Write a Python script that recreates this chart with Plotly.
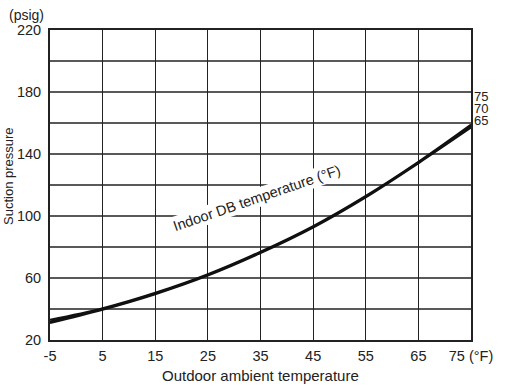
import plotly.graph_objects as go

outdoor_temp = [-5, 5, 15, 25, 35, 45, 55, 65, 75]
suction_75 = [33, 40.5, 50.5, 62.5, 77, 93.5, 113, 135, 159]
suction_70 = [32, 40, 50, 62, 76.5, 93, 112.5, 134.5, 158]
suction_65 = [31, 39.5, 49.5, 61.5, 76, 92.5, 112, 134, 157]
indoor_labels = ["75", "70", "65"]

x_ticks = [-5, 5, 15, 25, 35, 45, 55, 65, 75]
y_ticks = [20, 60, 100, 140, 180, 220]

FONT = "Liberation Sans, Arial, sans-serif"

fig = go.Figure()
for ys in (suction_75, suction_70, suction_65):
    fig.add_trace(go.Scatter(x=outdoor_temp, y=ys, mode="lines", line=dict(color="#111", width=2, shape="spline"),
                             showlegend=False, hoverinfo="skip"))

fig.update_layout(
    width=512, height=386,
    margin=dict(l=50, r=41, t=30, b=46),
    paper_bgcolor="white", plot_bgcolor="white",
    font=dict(family=FONT, size=14.5, color="#222"),
    xaxis=dict(range=[-5, 75], tickvals=x_ticks, ticktext=[str(v) for v in x_ticks[:-1]] + ["75 (°F)"],
               showgrid=True, gridcolor="#222", gridwidth=1.3,
               showline=True, linecolor="#222", linewidth=2, mirror=True,
               ticks="", zeroline=False, automargin=False, ticklabelstandoff=2),
    yaxis=dict(range=[20, 220], tickvals=y_ticks,
               showgrid=False,
               showline=True, linecolor="#222", linewidth=2, mirror=True,
               ticks="", zeroline=False, ticklabelstandoff=4, automargin=False),
)

# horizontal grid every 20
for yv in range(40, 220, 20):
    fig.add_shape(type="line", xref="paper", x0=0, x1=1, yref="y", y0=yv, y1=yv,
                  line=dict(color="#222", width=1.3), layer="below")

fig.add_annotation(xref="paper", yref="paper", x=-0.01, y=1.0, yanchor="bottom", xanchor="right",
                   text="(psig)", showarrow=False, font=dict(size=14), yshift=5)

fig.add_annotation(xref="paper", yref="paper", x=0.5, y=0, yanchor="top", xanchor="center",
                   text="Outdoor ambient temperature", showarrow=False, font=dict(size=15), yshift=-25)

fig.add_annotation(xref="paper", yref="paper", x=0, y=0.5, xanchor="center", yanchor="middle",
                   text="Suction pressure", textangle=-90, showarrow=False, font=dict(size=13),
                   xshift=-42, yshift=9)

for i, lab in enumerate(indoor_labels):
    fig.add_annotation(xref="paper", yref="y", x=1.0, xanchor="left", xshift=2,
                       y=suction_70[-1], yshift=30 - 12 * i, text=lab, showarrow=False,
                       font=dict(size=13), borderpad=0)

fig.add_annotation(x=34.3, y=111.5, text="Indoor DB temperature (°F)", textangle=-19,
                   showarrow=False, bgcolor="white", font=dict(size=14.5))

fig.write_html("out.html", config={"displayModeBar": False},
               post_script="document.body.style.margin='0px';")
